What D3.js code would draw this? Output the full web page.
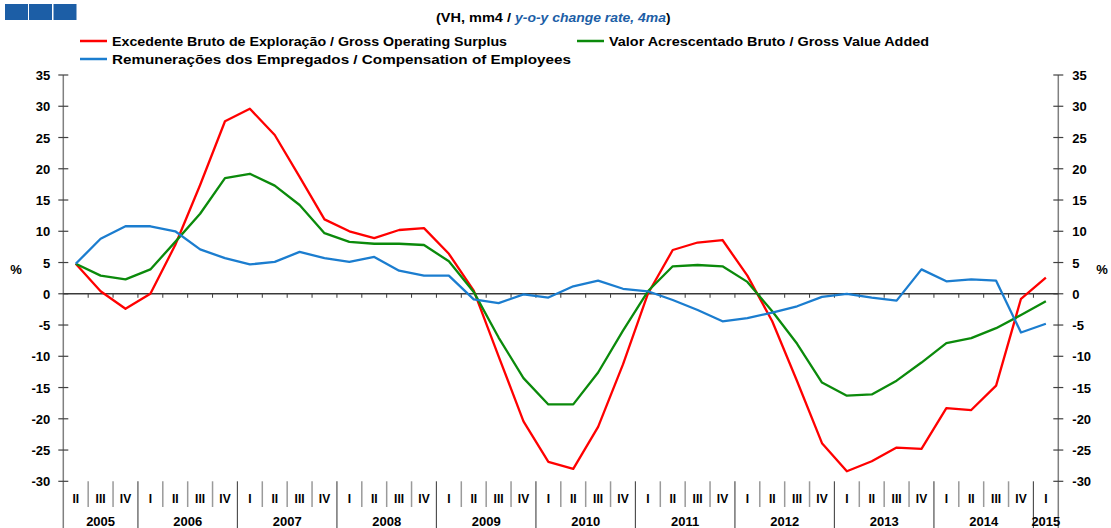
<!DOCTYPE html>
<html><head><meta charset="utf-8">
<script src="https://cdn.jsdelivr.net/npm/d3@7"></script>
<style>
body{margin:0;background:#fff}
svg{display:block}
text{font-family:"Liberation Sans",Arial,sans-serif;font-weight:bold;fill:#000}
</style>
</head><body>
<svg id="c" width="1111" height="528"></svg>
<script>
const categories = [
 "2005-II","2005-III","2005-IV",
 "2006-I","2006-II","2006-III","2006-IV",
 "2007-I","2007-II","2007-III","2007-IV",
 "2008-I","2008-II","2008-III","2008-IV",
 "2009-I","2009-II","2009-III","2009-IV",
 "2010-I","2010-II","2010-III","2010-IV",
 "2011-I","2011-II","2011-III","2011-IV",
 "2012-I","2012-II","2012-III","2012-IV",
 "2013-I","2013-II","2013-III","2013-IV",
 "2014-I","2014-II","2014-III","2014-IV",
 "2015-I"];
const years = ["2005","2006","2007","2008","2009","2010","2011","2012","2013","2014","2015"];
const surplus = [4.8,0.4,-2.4,0.0,7.8,17.4,27.6,29.6,25.4,18.7,11.9,10.0,8.9,10.2,10.5,6.4,0.5,-10.0,-20.4,-26.9,-28.0,-21.3,-11.3,0.0,7.0,8.2,8.6,2.9,-4.4,-14.0,-23.9,-28.4,-26.8,-24.6,-24.8,-18.3,-18.6,-14.7,-0.8,2.6];
const gva = [4.8,2.9,2.3,3.9,8.3,12.8,18.5,19.2,17.3,14.2,9.7,8.3,8.0,8.0,7.8,5.2,0.3,-7.0,-13.5,-17.7,-17.7,-12.6,-5.9,0.4,4.4,4.6,4.4,1.9,-2.8,-8.0,-14.2,-16.3,-16.1,-13.9,-11.0,-7.9,-7.1,-5.5,-3.4,-1.2];
const compensation = [4.8,8.8,10.8,10.8,10.0,7.1,5.7,4.7,5.1,6.7,5.7,5.1,5.9,3.7,2.9,2.9,-0.9,-1.5,-0.1,-0.6,1.2,2.1,0.8,0.4,-1.0,-2.6,-4.4,-3.9,-3.0,-2.0,-0.5,0.0,-0.6,-1.1,3.9,2.0,2.3,2.1,-6.2,-4.8];
const yTicks = [-30,-25,-20,-15,-10,-5,0,5,10,15,20,25,30,35];
const seriesNames = ["Excedente Bruto de Exploração / Gross Operating Surplus","Valor Acrescentado Bruto / Gross Value Added","Remunerações dos Empregados / Compensation of Employees"];
const seriesColors = ["#ff0000","#0b8a0b","#1b7dcf"];

const svg = d3.select("#c");
const X0 = 63.3, X1 = 1058.3;
const x = d3.scaleBand().domain(categories).range([X0, X1]).padding(0);
const bw = x.bandwidth();
const y = d3.scaleLinear().domain([-30,35]).range([481.3,75]);

// header squares
const sq = svg.append("g");
[5,29,53.5].forEach(px => sq.append("rect").attr("x",px).attr("y",4).attr("width",23).attr("height",16).attr("fill","#1c5ea6"));

// subtitle
const st = svg.append("text").attr("x",436).attr("y",22).style("font-size","13.5px");
st.append("tspan").text("(VH, mm4 / ").attr("textLength",79).attr("lengthAdjust","spacingAndGlyphs");
st.append("tspan").text("y-o-y change rate, 4ma").style("fill","#1c5ea6").style("font-style","italic")
  .attr("textLength",151).attr("lengthAdjust","spacingAndGlyphs");
st.append("tspan").text(")");

// legend
const leg = [
  {x:80, y:41, i:0, w:395},
  {x:577, y:41, i:1, w:320},
  {x:80, y:59, i:2, w:459}
];
leg.forEach(l => {
  svg.append("line").attr("x1",l.x).attr("x2",l.x+27).attr("y1",l.y).attr("y2",l.y)
    .attr("stroke",seriesColors[l.i]).attr("stroke-width",2.5);
  svg.append("text").attr("x",l.x+32).attr("y",l.y+5).style("font-size","13px")
    .attr("textLength",l.w).attr("lengthAdjust","spacingAndGlyphs")
    .text(seriesNames[l.i]);
});

// axes
const axisColor = "#808080";
[X0, X1].forEach((ax, side) => {
  svg.append("line").attr("x1",ax).attr("x2",ax).attr("y1",y(35)).attr("y2",528)
    .attr("stroke",axisColor).attr("stroke-width",1.5);
  yTicks.forEach(t => {
    svg.append("line").attr("x1",ax-5).attr("x2",ax+5).attr("y1",y(t)).attr("y2",y(t))
      .attr("stroke","#404040").attr("stroke-width",1.2);
    svg.append("text").attr("x", side===0 ? ax-13 : ax+14).attr("y", y(t)+5)
      .attr("text-anchor", side===0 ? "end" : "start").style("font-size","13px").text(t);
  });
});
svg.append("text").attr("x",16).attr("y",y(4)+5).attr("text-anchor","middle").style("font-size","13px").text("%");
svg.append("text").attr("x",1102).attr("y",y(4)+5).attr("text-anchor","middle").style("font-size","13px").text("%");

// zero line with ticks
svg.append("line").attr("x1",X0).attr("x2",X1).attr("y1",y(0)).attr("y2",y(0))
  .attr("stroke","#3a3a3a").attr("stroke-width",1.5);
categories.forEach((c,k) => {
  if (k===0) return;
  svg.append("line").attr("x1",x(c)).attr("x2",x(c)).attr("y1",y(0)).attr("y2",y(0)+4)
    .attr("stroke","#3a3a3a").attr("stroke-width",1);
});

// category separators and labels
categories.forEach((c,k) => {
  const [yr,q] = c.split("-");
  if (k>0) {
    const yearStart = q==="I";
    svg.append("line").attr("x1",x(c)).attr("x2",x(c)).attr("y1",y(-30)).attr("y2", yearStart ? 528 : 507)
      .attr("stroke", yearStart ? "#505050" : "#9a9a9a").attr("stroke-width", yearStart ? 1.2 : 1.5);
  }
  svg.append("text").attr("x",x(c)+bw/2).attr("y",502.5).attr("text-anchor","middle")
    .style("font-size","12px").text(q);
});
years.forEach(yr => {
  const cs = categories.filter(c => c.startsWith(yr));
  const a = x(cs[0]), b = x(cs[cs.length-1]) + bw;
  svg.append("text").attr("x",(a+b)/2).attr("y",526).attr("text-anchor","middle")
    .style("font-size","13px").text(yr);
});

// series lines
const line = d3.line().x((v,i) => x(categories[i]) + bw/2).y(v => y(v));
[surplus, gva, compensation].forEach((s,i) => {
  svg.append("path").attr("d", line(s)).attr("fill","none")
    .attr("stroke", seriesColors[i]).attr("stroke-width",2.3).attr("stroke-linejoin","round");
});
</script>
</body></html>
